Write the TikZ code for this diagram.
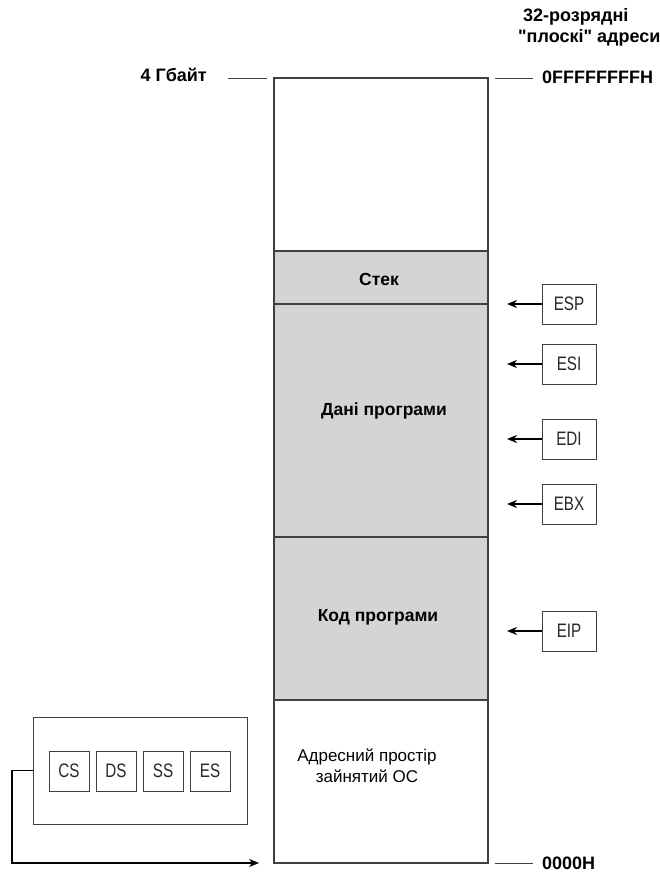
\documentclass[tikz,border=0pt]{standalone}
\usepackage{fontspec}
\setmainfont{Liberation Sans}
\newfontfamily\quotefont{Liberation Sans}
\newfontfamily\narrowfont[FakeStretch=0.78]{Liberation Sans}
\usetikzlibrary{arrows.meta}

\definecolor{segfill}{RGB}{212,212,214}
\definecolor{edgegray}{RGB}{64,64,64}
\definecolor{regtext}{RGB}{40,40,40}

\begin{document}
\begin{tikzpicture}[x=1pt,y=-1pt,
  region/.style={draw=edgegray, line width=1.2pt, anchor=north west,
    minimum width=214pt, inner sep=0pt, outer sep=0pt},
  heavy/.style={font=\bfseries\fontsize{17.5}{20}\selectfont},
  toplabel/.style={font=\quotefont\bfseries\fontsize{18}{21}\selectfont},
  plain/.style={font=\fontsize{17}{21}\selectfont, align=center},
  regbox/.style={draw=edgegray, line width=1pt, minimum width=54pt,
    minimum height=40pt, inner sep=0pt, text=regtext,
    font=\narrowfont\fontsize{19.5}{22}\selectfont},
  segbox/.style={draw=edgegray, line width=1pt, minimum width=40pt,
    minimum height=40pt, inner sep=0pt, text=regtext,
    font=\narrowfont\fontsize{19.5}{22}\selectfont},
  ptr/.style={-{Stealth[length=10pt,width=8pt]}, line width=1.7pt, black},
  tickline/.style={draw=edgegray, line width=0.9pt}]

\useasboundingbox (0,0) rectangle (659,872);

% memory column, from top to bottom
\node[region, minimum height=173pt] (free) at (274,78) {};
\node[region, fill=segfill, minimum height=53pt] (stack) at (274,251) {};
\node[region, fill=segfill, minimum height=233pt] (data) at (274,304) {};
\node[region, fill=segfill, minimum height=163pt] (code) at (274,537) {};
\node[region, minimum height=163pt] (os) at (274,700) {};

\node[heavy] (stacklbl) at (379,279) {Стек};
\node[heavy] (datalbl) at (384,411) {Дані програми};
\node[heavy] (codelbl) at (378,617) {Код програми};
\node[plain] (oslbl) at (367,766) {Адресний простір\\зайнятий ОС};

% address markers
\coordinate (tl1) at (228,78);
\coordinate (tl2) at (267,78);
\coordinate (tr1) at (495,78);
\coordinate (tr2) at (533,78);
\coordinate (br1) at (495,863);
\coordinate (br2) at (533,863);
\draw[tickline] (tl1) -- (tl2);
\draw[tickline] (tr1) -- (tr2);
\draw[tickline] (br1) -- (br2);

\node[toplabel, anchor=east, inner xsep=0pt] (gb) at (207,75) {4 Гбайт};
\node[toplabel, anchor=west, inner xsep=0pt] (hi) at (542,77) {0FFFFFFFFH};
\node[toplabel, anchor=west, inner sep=0pt] (lo) at (542,863.5) {0000H};
\node[toplabel, align=left, anchor=north west, inner sep=0pt] (head) at (518,8)
  {\hspace*{5pt}32-розрядні\\"плоскі" адреси};

% 32-bit registers pointing into the address space
\node[regbox] (esp) at (569,304) {ESP};
\node[regbox] (esi) at (569,364) {ESI};
\node[regbox] (edi) at (569,439) {EDI};
\node[regbox] (ebx) at (569,504) {EBX};
\node[regbox] (eip) at (569,631) {EIP};

\coordinate (tipx) at (507,0);
\foreach \r in {esp,esi,edi,ebx,eip}
  \draw[ptr] (\r.west) -- (\r.west -| tipx);

% segment registers
\node[draw=edgegray, line width=1pt, minimum width=214pt, minimum height=107pt,
  inner sep=0pt] (segs) at (140,770.5) {};
\node[segbox] (cs) at (69,771) {CS};
\node[segbox] (ds) at (116,771) {DS};
\node[segbox] (ss) at (163,771) {SS};
\node[segbox] (es) at (210,771) {ES};

\coordinate (bend) at (12,863);
\coordinate (osin) at (259,863);
\draw[ptr, line width=1.5pt] (segs.west) -| (bend) -- (osin);

\end{tikzpicture}
\end{document}
